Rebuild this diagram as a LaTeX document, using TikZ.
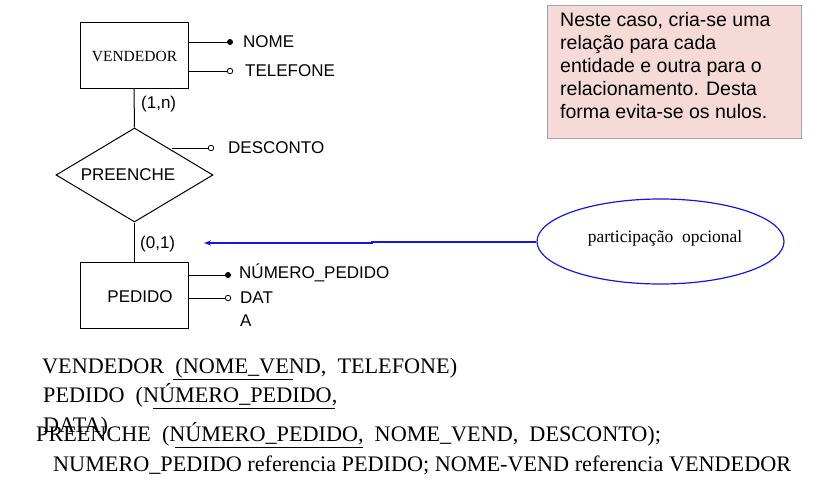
\documentclass[tikz,border=0pt]{standalone}
\usepackage{fontspec}
\setmainfont{Liberation Serif}
\setsansfont{Liberation Sans}
\usetikzlibrary{shapes.geometric,arrows.meta}
\definecolor{notepink}{RGB}{245,218,215}
\definecolor{notegray}{RGB}{165,165,165}
\definecolor{arrblue}{RGB}{20,20,240}
\begin{document}
\begin{tikzpicture}[x=1pt,y=-1pt,
 ent/.style={draw, line width=1pt, minimum width=108pt, minimum height=66pt, inner sep=0pt},
 sfl/.style={font=\sffamily\fontsize{17}{20}\selectfont, inner sep=0pt},
 lbl/.style={sfl, anchor=west},
 fdot/.style={circle, fill=black, inner sep=0pt, minimum size=6pt},
 odot/.style={circle, draw, fill=white, inner sep=0pt, minimum size=5.5pt, line width=0.8pt},
 rel/.style={font=\fontsize{22.2}{26}\selectfont, anchor=base west, inner sep=0pt},
 conn/.style={line width=1pt},
 ul/.style={line width=0.9pt},
 ]
\useasboundingbox (0,0) rectangle (829,479);

% entities
\node[ent] (vend) at (134,55) {};
\node[font=\fontsize{15.5}{18}\selectfont, inner sep=0pt] (vendt) at (134.5,56) {VENDEDOR};
\node[ent] (ped) at (134.5,295) {};
\node[sfl] (pedt) at (140,297) {PEDIDO};

% relationship
\node[draw, diamond, line width=1pt, minimum width=157pt, minimum height=94pt, inner sep=0pt] (pre) at (134.5,175) {};
\node[sfl] (pret) at (128,175) {PREENCHE};

% connectors
\draw[conn] (vend.south) -- (pre.north);
\draw[conn] (pre.south) -- (ped.north);
\node[sfl, anchor=west] (card1) at (141,104) {(1,n)};
\node[sfl, anchor=west] (card2) at (140,244) {(0,1)};

% attributes VENDEDOR
\node[fdot] (d1) at (230,42) {};
\node[odot] (d2) at (230,71) {};
\draw[conn] (d1 -| vend.east) -- (d1);
\draw[conn] (d2 -| vend.east) -- (d2);
\node[lbl] (a1) at (243,42) {NOME};
\node[lbl] (a2) at (245,71) {TELEFONE};

% attribute PREENCHE
\coordinate (pe) at (172,148);
\node[odot] (d3) at (211,148) {};
\draw[conn] (pe) -- (d3);
\node[lbl] (a3) at (228,148) {DESCONTO};

% attributes PEDIDO
\node[fdot] (d4) at (228,275) {};
\node[odot] (d5) at (228,298) {};
\draw[conn] (d4 -| ped.east) -- (d4);
\draw[conn] (d5 -| ped.east) -- (d5);
\node[lbl] (a4) at (239,273) {NÚMERO\_PEDIDO};
\node[lbl] (a5) at (240,298) {DAT};
\node[lbl] (a6) at (240,321) {A};

% note ellipse + arrow
\node[draw=arrblue, ellipse, line width=1.2pt, minimum width=247pt, minimum height=85pt, inner sep=0pt] (ell) at (660.5,241.5) {};
\node[font=\fontsize{17.5}{20}\selectfont, inner sep=0pt] (ellt) at (665,238) {participação\ \ opcional};
\coordinate (tip) at (204,243);
\draw[arrblue, line width=2pt, -{Stealth[length=7pt,width=5pt]}] (ell.west) -- (372,241.5) |- (tip);

% pink note
\node[draw=notegray, fill=notepink, line width=1pt, minimum width=254pt, minimum height=133pt, inner sep=0pt, anchor=north west] (note) at (547,5) {};
\node[font=\sffamily\fontsize{19.5}{23}\selectfont, align=left, anchor=north west, inner sep=0pt] (notet) at (560,12) {Neste caso, cria-se uma\\relação para cada\\entidade e outra para o\\relacionamento. Desta\\forma evita-se os nulos.};

% relational schema
\node[rel] (r1) at (42,373) {VENDEDOR\ \ (NOME\_VEND,\ \ TELEFONE)};
\node[rel] (r2) at (43,402) {PEDIDO\ \ (NÚMERO\_PEDIDO,};
\node[rel] (r3) at (43,432) {DATA)};
\node[rel] (r4) at (36,441) {PREENCHE\ \ (NÚMERO\_PEDIDO,\ \ NOME\_VEND,\ \ DESCONTO);};
\node[rel] (r5) at (53,471) {NUMERO\_PEDIDO referencia PEDIDO; NOME-VEND referencia VENDEDOR};
\draw[ul] (173,379) -- (293,379);
\draw[ul] (153,408) -- (335,408);
\draw[ul] (175,447) -- (363,447);
\end{tikzpicture}
\end{document}
